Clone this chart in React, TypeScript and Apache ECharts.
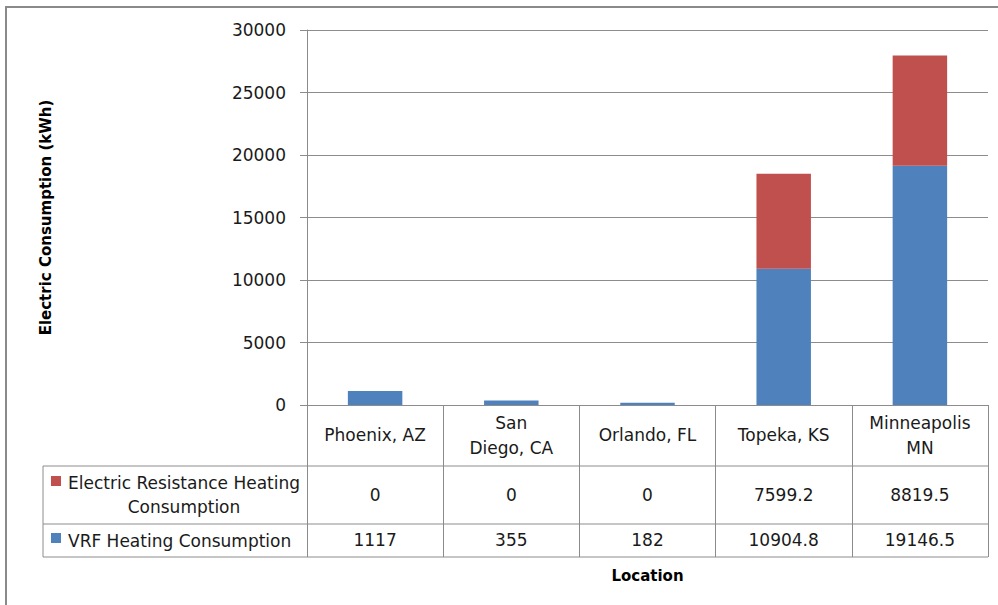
import React, { useEffect, useRef } from "react";
import * as echarts from "echarts";

// Locations and heating consumption (kWh)
const locations = ["Phoenix, AZ", "San\nDiego, CA", "Orlando, FL", "Topeka, KS", "Minneapolis\nMN"];
const resistanceName = "Electric Resistance Heating Consumption";
const vrfName = "VRF Heating Consumption";
const resistanceValues = [0, 0, 0, 7599.2, 8819.5];
const vrfValues = [1117, 355, 182, 10904.8, 19146.5];
const yTicks = { min: 0, max: 30000, interval: 5000 };

const RED = "#C0504D";
const BLUE = "#4F81BD";
const LINE = "#8c8c8c";
const FONT = "DejaVu Sans";
const TEXT = "#1a1a1a";
const FS = 17;

// Layout of the plot area and the data table below it
const W = 998;
const H = 605;
const gridLeft = 307;
const gridTop = 30;
const gridRight = 988;
const axisY = 405;
const tableLeft = 43;
const row1Bottom = 466;
const row2Bottom = 524;
const tableBottom = 557;

export default function App() {
  const ref = useRef<HTMLDivElement>(null);

  useEffect(() => {
    if (!ref.current) return;
    const chart = echarts.init(ref.current, null, { renderer: "svg" });

    const valueAxis = (values: number[], margin: number) => ({
      type: "category",
      data: locations,
      position: "bottom",
      gridIndex: 0,
      axisLine: { show: false },
      axisTick: { show: false },
      splitLine: { show: false },
      axisLabel: {
        interval: 0,
        margin,
        verticalAlign: "middle",
        fontFamily: FONT,
        fontSize: FS,
        color: TEXT,
        formatter: (_v: string, i: number) => String(values[i]),
      },
    });

    const hLine = (y: number, x1: number, x2: number) => ({
      type: "line",
      shape: { x1, y1: y, x2, y2: y },
      style: { stroke: LINE, lineWidth: 1 },
      silent: true,
    });

    chart.setOption({
      animation: false,
      backgroundColor: "#ffffff",
      grid: {
        left: gridLeft,
        top: gridTop,
        right: W - gridRight,
        bottom: H - axisY,
        containLabel: false,
      },
      xAxis: [
        {
          type: "category",
          data: locations,
          position: "bottom",
          axisLine: { show: true, lineStyle: { color: LINE, width: 1 } },
          axisTick: {
            show: true,
            interval: 0,
            length: tableBottom - axisY,
            lineStyle: { color: LINE, width: 1 },
          },
          axisLabel: {
            interval: 0,
            margin: 30,
            verticalAlign: "middle",
            fontFamily: FONT,
            fontSize: FS,
            lineHeight: 25,
            color: TEXT,
          },
          name: "Location",
          nameLocation: "middle",
          nameGap: 163,
          nameTextStyle: { fontFamily: FONT, fontSize: 15, fontWeight: "bold", color: "#000" },
        },
        valueAxis(resistanceValues, 90),
        valueAxis(vrfValues, 135),
      ],
      yAxis: {
        type: "value",
        min: yTicks.min,
        max: yTicks.max,
        interval: yTicks.interval,
        axisLine: { show: true, lineStyle: { color: LINE, width: 1 } },
        axisTick: { show: true, length: 7, lineStyle: { color: LINE } },
        splitLine: { show: true, lineStyle: { color: LINE, width: 1 } },
        axisLabel: {
          margin: 21,
          fontFamily: FONT,
          fontSize: FS,
          color: TEXT,
          formatter: (v: number) => String(v),
        },
        name: "Electric Consumption (kWh)",
        nameLocation: "middle",
        nameGap: 254,
        nameRotate: 90,
        nameTextStyle: { fontFamily: FONT, fontSize: 15, fontWeight: "bold", color: "#000" },
      },
      series: [
        {
          name: vrfName,
          type: "bar",
          stack: "total",
          data: vrfValues,
          barWidth: "40%",
          itemStyle: { color: BLUE },
        },
        {
          name: resistanceName,
          type: "bar",
          stack: "total",
          data: resistanceValues,
          barWidth: "40%",
          itemStyle: { color: RED },
        },
      ],
      graphic: [
        // outer chart frame
        {
          type: "rect",
          shape: { x: 6, y: 7, width: W + 20, height: H + 20 },
          style: { fill: "none", stroke: "#8a8a8a", lineWidth: 2 },
          silent: true,
        },
        // data table rules
        hLine(row1Bottom, tableLeft, gridRight),
        hLine(row2Bottom, tableLeft, gridRight),
        hLine(tableBottom, tableLeft, gridRight),
        {
          type: "line",
          shape: { x1: tableLeft, y1: row1Bottom, x2: tableLeft, y2: tableBottom },
          style: { stroke: LINE, lineWidth: 1 },
          silent: true,
        },
        // legend keys in the table
        {
          type: "rect",
          shape: { x: 51, y: 476, width: 10, height: 10 },
          style: { fill: RED },
          silent: true,
        },
        {
          type: "text",
          x: 184,
          y: (row1Bottom + row2Bottom) / 2,
          style: {
            text: "Electric Resistance Heating\nConsumption",
            fontFamily: FONT,
            fontSize: FS,
            lineHeight: 24,
            fill: TEXT,
            align: "center",
            verticalAlign: "middle",
          },
          silent: true,
        },
        {
          type: "rect",
          shape: { x: 51, y: 533, width: 10, height: 10 },
          style: { fill: BLUE },
          silent: true,
        },
        {
          type: "text",
          x: 68,
          y: (row2Bottom + tableBottom) / 2,
          style: {
            text: vrfName,
            fontFamily: FONT,
            fontSize: FS,
            fill: TEXT,
            align: "left",
            verticalAlign: "middle",
          },
          silent: true,
        },
      ],
    });

    return () => chart.dispose();
  }, []);

  return (
    <div
      ref={ref}
      style={{ position: "absolute", left: 0, top: 0, width: W, height: H, background: "#fff" }}
    />
  );
}
